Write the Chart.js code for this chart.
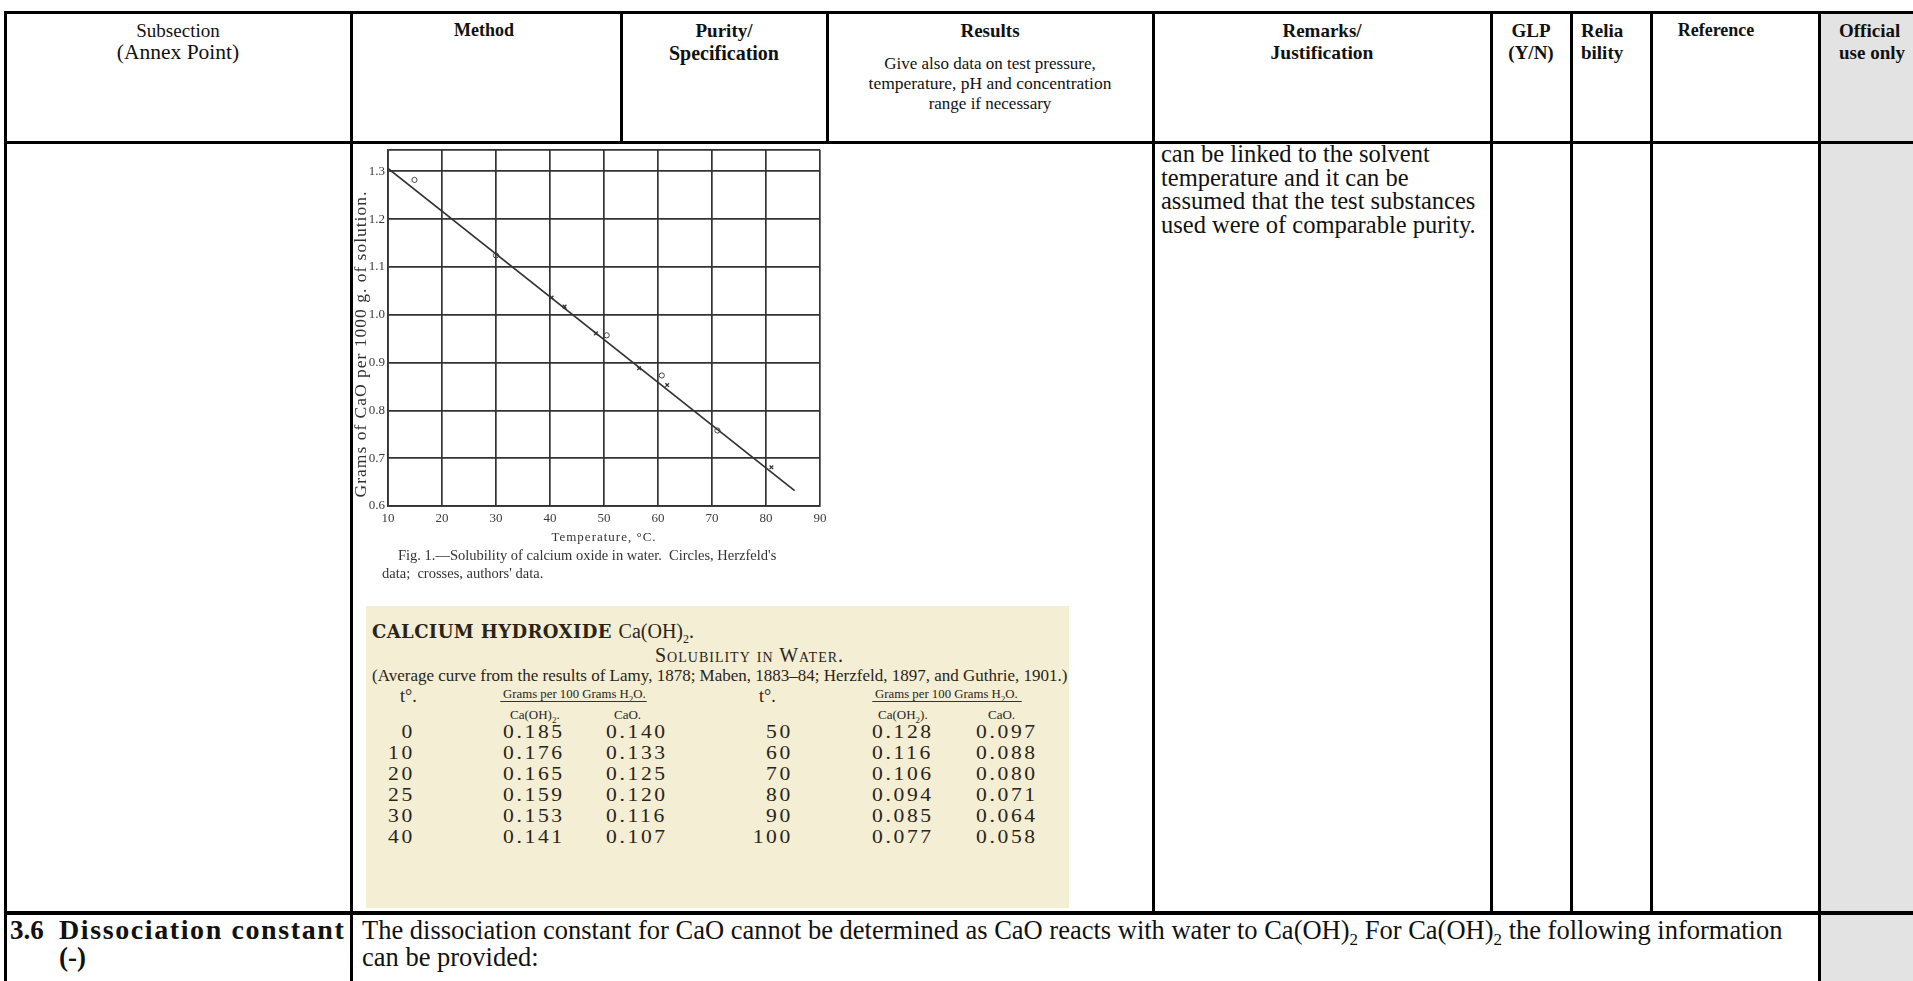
<!DOCTYPE html>
<html>
<head>
<meta charset="utf-8">
<script src="https://cdn.jsdelivr.net/npm/chart.js@4.4.0/dist/chart.umd.min.js"></script>
<style>
html,body{margin:0;padding:0;background:#fff;}
body{width:1913px;height:981px;position:relative;overflow:hidden;font-family:"Liberation Serif","Times New Roman",serif;color:#111;}
sub{line-height:0;}
.ln{position:absolute;background:#000;}
.t{position:absolute;white-space:nowrap;line-height:1;}
.b{font-weight:bold;}
.c{transform:translateX(-50%);}
.gray{position:absolute;background:#e3e3e3;}
#scan{position:absolute;left:366px;top:606px;width:703px;height:302px;background:#f3eed4;}
#scan .t{color:#2a2418;}
#fig{position:absolute;left:351px;top:139px;width:509px;height:411px;filter:blur(0.35px);}
.cap{position:absolute;white-space:nowrap;font-size:14.5px;color:#333;line-height:1;}
.num{font-size:18px;letter-spacing:2.2px;line-height:20px;transform:scaleX(1.2);}
.num.l{transform-origin:0 50%;}
.num.r{transform-origin:100% 50%;}
</style>
</head>
<body>

<!-- grey column -->
<div class="gray" style="left:1821px;top:14px;width:92px;height:967px;"></div>

<!-- table rules -->
<div class="ln" style="left:4px;top:11px;width:1909px;height:3px;"></div>
<div class="ln" style="left:4px;top:141px;width:1909px;height:3px;"></div>
<div class="ln" style="left:4px;top:911px;width:1909px;height:4px;"></div>
<div class="ln" style="left:4px;top:11px;width:3px;height:970px;"></div>
<div class="ln" style="left:350px;top:11px;width:3px;height:970px;"></div>
<div class="ln" style="left:620px;top:11px;width:3px;height:133px;"></div>
<div class="ln" style="left:826px;top:11px;width:3px;height:133px;"></div>
<div class="ln" style="left:1152px;top:11px;width:3px;height:904px;"></div>
<div class="ln" style="left:1490px;top:11px;width:3px;height:904px;"></div>
<div class="ln" style="left:1570px;top:11px;width:3px;height:904px;"></div>
<div class="ln" style="left:1650px;top:11px;width:3px;height:904px;"></div>
<div class="ln" style="left:1818px;top:11px;width:3px;height:970px;"></div>

<!-- header -->
<div class="t c" style="left:178px;top:21px;font-size:19px;">Subsection</div>
<div class="t c" style="left:178px;top:42px;font-size:21.5px;">(Annex Point)</div>
<div class="t c b" style="left:484px;top:21px;font-size:18px;">Method</div>
<div class="t c b" style="left:724px;top:21px;font-size:19px;">Purity/</div>
<div class="t c b" style="left:724px;top:43px;font-size:20px;">Specification</div>
<div class="t c b" style="left:990px;top:21px;font-size:19px;">Results</div>
<div class="t c" style="left:990px;top:55px;font-size:17px;">Give also data on test pressure,</div>
<div class="t c" style="left:990px;top:75px;font-size:17.5px;">temperature, pH and concentration</div>
<div class="t c" style="left:990px;top:95px;font-size:17px;">range if necessary</div>
<div class="t c b" style="left:1322px;top:21px;font-size:19px;">Remarks/</div>
<div class="t c b" style="left:1322px;top:43px;font-size:19.5px;">Justification</div>
<div class="t c b" style="left:1531px;top:21px;font-size:19px;">GLP</div>
<div class="t c b" style="left:1531px;top:43px;font-size:19px;">(Y/N)</div>
<div class="t b" style="left:1581px;top:21px;font-size:19px;">Relia</div>
<div class="t b" style="left:1581px;top:43px;font-size:19px;">bility</div>
<div class="t c b" style="left:1716px;top:21px;font-size:18px;">Reference</div>
<div class="t b" style="left:1839px;top:21px;font-size:19px;">Official</div>
<div class="t b" style="left:1839px;top:43px;font-size:19px;">use only</div>

<!-- remarks -->
<div class="t" style="left:1161px;top:142px;font-size:24.5px;line-height:23.6px;">can be linked to the solvent<br>temperature and it can be<br>assumed that the test substances<br>used were of comparable purity.</div>

<!-- figure -->
<div id="fig"><canvas id="c" width="509" height="411"></canvas></div>
<div class="cap" style="left:398px;top:548px;">Fig. 1.—Solubility of calcium oxide in water.&nbsp; Circles, Herzfeld's</div>
<div class="cap" style="left:382px;top:566px;">data;&nbsp; crosses, authors' data.</div>

<!-- solubility table -->
<div id="scan">
  <div class="t" style="left:6px;top:15px;font-family:'DejaVu Serif';font-weight:bold;font-size:18px;letter-spacing:0.4px;">CALCIUM HYDROXIDE <span style="font-family:'Liberation Serif';font-weight:normal;font-size:20px;letter-spacing:0;">Ca(OH)<sub style="font-size:12px;">2</sub>.</span></div>
  <div class="t" style="left:289px;top:39px;font-size:20px;font-variant:small-caps;letter-spacing:1px;">Solubility in Water.</div>
  <div class="t" style="left:6px;top:61px;font-size:17px;">(Average curve from the results of Lamy, 1878; Maben, 1883–84; Herzfeld, 1897, and Guthrie, 1901.)</div>
  <div id="tbl"></div>
</div>

<!-- row 3.6 -->
<div class="t b" style="left:10px;top:917px;font-size:27px;">3.6</div>
<div class="t b" style="left:59px;top:916px;font-size:28px;letter-spacing:1.6px;">Dissociation constant</div>
<div class="t b" style="left:59px;top:944px;font-size:27px;">(-)</div>
<div class="t" style="left:362px;top:917px;font-size:26.5px;line-height:27px;">The dissociation constant for CaO cannot be determined as CaO reacts with water to Ca(OH)<sub style="font-size:17px;">2</sub> For Ca(OH)<sub style="font-size:17px;">2</sub> the following information<br>can be provided:</div>

<script>
// Fig. 1: grams CaO per 1000 g solution against temperature
const xTicks = [10, 20, 30, 40, 50, 60, 70, 80, 90];
const yTicks = [0.6, 0.7, 0.8, 0.9, 1.0, 1.1, 1.2, 1.3];
const yTop = 1.345;

// circles (Herzfeld)
const herzT   = [14.9, 30.0, 50.5, 60.7, 71];
const herzCaO = [1.282, 1.124, 0.957, 0.873, 0.758];
// crosses (authors)
const authT   = [40.3, 42.7, 48.5, 56.5, 61.7, 81];
const authCaO = [1.036, 1.017, 0.961, 0.888, 0.853, 0.681];
// drawn straight line
const lineT   = [10, 85.3];
const lineCaO = [1.306, 0.632];

// Solubility in water, g per 100 g H2O
const tLeft    = ['0', '10', '20', '25', '30', '40'];
const ohLeft   = ['0.185', '0.176', '0.165', '0.159', '0.153', '0.141'];
const caoLeft  = ['0.140', '0.133', '0.125', '0.120', '0.116', '0.107'];
const tRight   = ['50', '60', '70', '80', '90', '100'];
const ohRight  = ['0.128', '0.116', '0.106', '0.094', '0.085', '0.077'];
const caoRight = ['0.097', '0.088', '0.080', '0.071', '0.064', '0.058'];

const el = (id) => document.getElementById(id);
const pts = (xs, ys) => xs.map((x, i) => ({x: x, y: ys[i]}));

// ---- table ----
function cell(html, x, y, cls, alignRight){
  const d = document.createElement('div');
  d.className = 't ' + (cls || '') + (alignRight ? ' r' : ' l');
  d.innerHTML = html;
  d.style.top = y + 'px';
  if(alignRight){
    d.style.left = (x - 50) + 'px';
    d.style.width = '50px';
    d.style.textAlign = 'right';
  } else {
    d.style.left = x + 'px';
  }
  el('tbl').appendChild(d);
}

function renderTable(){
  const g = '<span style="font-size:12.8px">Grams per 100 Grams H<sub style="font-size:9px">2</sub>O.</span>';
  // column heads
  cell('<span style="font-size:18px">t°.</span>', 34, 81);
  cell(g, 137, 79);
  cell('<span style="font-size:13px">Ca(OH)<sub style="font-size:9px">2</sub>.</span>', 144, 100);
  cell('<span style="font-size:13px">CaO.</span>', 248, 100);
  cell('<span style="font-size:18px">t°.</span>', 393, 81);
  cell(g, 509, 79);
  cell('<span style="font-size:13px">Ca(OH<sub style="font-size:9px">2</sub>).</span>', 512, 100);
  cell('<span style="font-size:13px">CaO.</span>', 622, 100);

  const y0 = 116, dy = 21;
  tLeft.forEach((v, i) => {
    const y = y0 + i * dy;
    cell(v, 49, y, 'num', true);
    cell(ohLeft[i], 137, y, 'num');
    cell(caoLeft[i], 240, y, 'num');
    cell(tRight[i], 427, y, 'num', true);
    cell(ohRight[i], 506, y, 'num');
    cell(caoRight[i], 610, y, 'num');
  });

  // braces under the group heads
  [[134, 147], [506, 150]].forEach(([x, w]) => {
    const b = document.createElement('div');
    b.style.cssText = 'position:absolute;left:' + x + 'px;top:95px;width:' + w + 'px;height:0;border-top:1.6px solid #3a3326;border-radius:6px 6px 0 0;';
    el('tbl').appendChild(b);
  });
}

// ---- chart ----
// axis titles on the old plate are widely set; tick labels are not.
// Titles sit in the grid layer (z -1), labels are lifted to z 1 so the
// spacing can be switched off once the datasets are done.
const spacedTitles = {
  id: 'spacedTitles',
  beforeDraw(chart){ chart.ctx.letterSpacing = '1px'; },
  afterDatasetsDraw(chart){ chart.ctx.letterSpacing = '0px'; }
};

function renderChart(){
  const ink = '#333';
  const fam = "'Liberation Serif', serif";
  // pad the title on its upper end so it sits a little low on the axis
  const yTitle = 'Grams of CaO per 1000 g. of solution.' + '\u00a0'.repeat(6);

  new Chart(el('c').getContext('2d'), {
    type: 'scatter',
    plugins: [spacedTitles],
    data: {
      datasets: [
        {
          type: 'line',
          data: pts(lineT, lineCaO),
          borderColor: ink,
          borderWidth: 1.7,
          pointRadius: 0,
          fill: false
        },
        {
          data: pts(herzT, herzCaO),
          pointStyle: 'circle',
          pointRadius: 2.6,
          borderWidth: 1,
          borderColor: '#444',
          backgroundColor: 'rgba(0,0,0,0)'
        },
        {
          data: pts(authT, authCaO),
          pointStyle: 'crossRot',
          pointRadius: 2.6,
          borderWidth: 1.3,
          borderColor: '#333'
        }
      ]
    },
    options: {
      responsive: false,
      animation: false,
      layout: {padding: {top: 10, right: 40, left: 0, bottom: 0}},
      plugins: {legend: {display: false}, tooltip: {enabled: false}},
      scales: {
        x: {
          type: 'linear',
          min: 10, max: 90,
          afterBuildTicks: (s) => { s.ticks = xTicks.map(v => ({value: v})); },
          afterFit: (s) => { s.height = 44; },
          grid: {color: ink, lineWidth: 1.7, drawTicks: false},
          border: {color: ink, width: 1.7},
          ticks: {z: 1, padding: 5, color: '#3a3a3a', font: {family: fam, size: 13}, maxRotation: 0},
          title: {display: true, text: 'Temperature, °C.', color: '#333', font: {family: fam, size: 13}, padding: {top: 0, bottom: 5}}
        },
        y: {
          type: 'linear',
          min: 0.6, max: yTop,
          afterBuildTicks: (s) => { s.ticks = yTicks.concat([yTop]).map(v => ({value: v})); },
          afterFit: (s) => { s.width = 37; },
          grid: {color: ink, lineWidth: 1.7, drawTicks: false},
          border: {color: ink, width: 1.7},
          ticks: {
            z: 1, padding: 3, color: '#3a3a3a', font: {family: fam, size: 13},
            callback: (v) => yTicks.includes(v) ? v.toFixed(1) : ''
          },
          title: {display: true, text: yTitle, color: '#333', font: {family: fam, size: 17.5}, padding: {top: 0}}
        }
      }
    }
  });
}

renderTable();
renderChart();
</script>
</body>
</html>
